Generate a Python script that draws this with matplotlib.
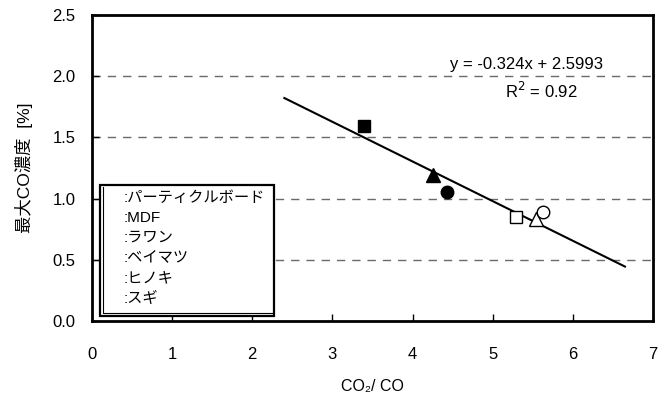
import matplotlib
matplotlib.use("Agg")
import matplotlib.pyplot as plt
from matplotlib.patches import Rectangle
from matplotlib.lines import Line2D
import numpy as np

plt.rcParams['font.family'] = ['Liberation Sans', 'Noto Sans CJK JP', 'DejaVu Sans']

# Data
species = ["パーティクルボード", "MDF", "ラワン", "ベイマツ", "ヒノキ", "スギ"]
ratio = [3.40, 4.26, 4.43, 5.29, 5.54, 5.63]
max_co = [1.59, 1.19, 1.05, 0.85, 0.83, 0.89]
markers = ["s", "^", "o", "s", "^", "o"]
filled = [True, True, True, False, False, False]
msizes = [8, 10, 9, 8, 10, 9]

slope = -0.324
intercept = 2.5993
fit_x = [2.40, 6.65]
r2 = 0.92

xticks = [0, 1, 2, 3, 4, 5, 6, 7]
yticks = [0.0, 0.5, 1.0, 1.5, 2.0, 2.5]

W, H = 669, 394
fig = plt.figure(figsize=(W / 100, H / 100), dpi=100)
ax = fig.add_axes([92 / W, 1 - 321 / H, (653 - 92) / W, (321 - 15) / H])

ax.set_xlim(0, 7)
ax.set_ylim(0, 2.5)
ax.set_xticks(xticks)
ax.set_yticks(yticks)
ax.set_xticklabels([str(v) for v in xticks], fontsize=12)
ax.set_yticklabels([f"{v:.1f}" for v in yticks], fontsize=12)
ax.tick_params(direction='in', length=5, width=1, pad=12)
ax.tick_params(axis='x', pad=19)
for s in ax.spines.values():
    s.set_linewidth(2)
    s.set_zorder(10)

for g in yticks[1:-1]:
    ax.axhline(g, color='#6a6a6a', lw=1, ls=(0, (6, 5)), zorder=1)

fx = np.array(fit_x)
ax.plot(fx, slope * fx + intercept, color='black', lw=1.5, zorder=3)

for x, y, m, f, ms in zip(ratio, max_co, markers, filled, msizes):
    ax.plot([x], [y], marker=m, ms=ms, mec='black', mew=1,
            mfc='black' if f else 'white', ls='none', zorder=4)

ax.text(526 / W, 1 - 65 / H, f"y = {slope}x + {intercept}", transform=fig.transFigure,
        ha='center', va='center', fontsize=12, zorder=5,
        bbox=dict(facecolor='white', edgecolor='none', pad=1))
ax.text(541 / W, 1 - 91 / H, f"R$^2$ = {r2}", transform=fig.transFigure,
        ha='center', va='center', fontsize=12, zorder=5,
        bbox=dict(facecolor='white', edgecolor='none', pad=1))

ax.set_xlabel("CO₂/ CO", fontsize=11.5, labelpad=12)
ax.set_ylabel("最大CO濃度  [%]", fontsize=12.5, labelpad=14)

# Legend box (no markers shown)
lx0, lx1, ly0, ly1 = 100, 274, 185, 316
fig.patches.append(Rectangle((lx0 / W, 1 - ly1 / H), (lx1 - lx0) / W, (ly1 - ly0) / H,
                             transform=fig.transFigure, facecolor='white', edgecolor='black',
                             lw=1.6, zorder=7))
fig.lines.append(Line2D([(lx0 + 3) / W, (lx0 + 3) / W, (lx1 - 1) / W],
                        [1 - (ly0 + 2) / H, 1 - (ly1 - 3) / H, 1 - (ly1 - 3) / H],
                        transform=fig.transFigure, color='black', lw=0.8, zorder=8))
for i, name in enumerate(species):
    fig.text(124 / W, 1 - (198 + 20 * i) / H, ":" + name, ha='left', va='center',
             fontsize=11, zorder=9)

fig.savefig("out.png", dpi=100)
